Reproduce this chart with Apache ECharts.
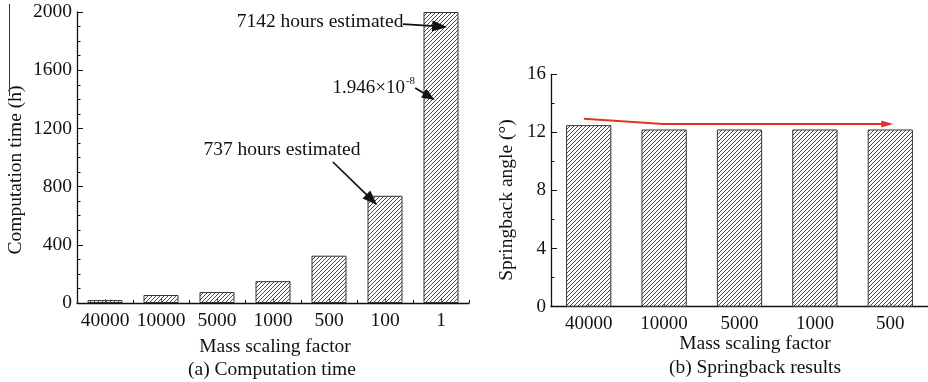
<!DOCTYPE html>
<html><head><meta charset="utf-8">
<script src="https://cdn.jsdelivr.net/npm/echarts@6/dist/echarts.min.js"></script>
<style>html,body{margin:0;padding:0;background:#fff}#c{width:928px;height:382px}</style>
</head><body><div id="c"></div>
<script>
// ---- data ----
const catsA = ['40000', '10000', '5000', '1000', '500', '100', '1'];
const timeHours = [20, 55, 75, 150, 325, 737, 2000];
const catsB = ['40000', '10000', '5000', '1000', '500'];
const springbackDeg = [12.5, 12.2, 12.2, 12.2, 12.2];
const yTicksA = [0, 400, 800, 1200, 1600, 2000];
const yTicksB = [0, 4, 8, 12, 16];
// annotations in data space: [category index (fractional), value]
const noteA1 = { text: '7142 hours estimated', at: [3.84, 1931], from: [5.32, 1917], to: [6.11, 1897] };
const noteA2 = { base: '1.946×10', sup: '-8', at: [4.80, 1485], from: [5.54, 1478], to: [5.89, 1395] };
const noteA3 = { text: '737 hours estimated', at: [3.16, 1052], from: [4.07, 969], to: [4.86, 674] };
const trendB = [[-0.064, 12.94], [0.987, 12.58], [4.04, 12.58]];

const FONT = '"Liberation Serif", "Times New Roman", serif';
const INK = '#111';

function hatch() {
  const s = 4, c = document.createElement('canvas');
  c.width = c.height = s;
  const g = c.getContext('2d');
  g.fillStyle = '#fff'; g.fillRect(0, 0, s, s);
  g.strokeStyle = '#333'; g.lineWidth = 0.9;
  g.beginPath();
  g.moveTo(0, s); g.lineTo(s, 0);
  g.moveTo(-1, 1); g.lineTo(1, -1);
  g.moveTo(s - 1, s + 1); g.lineTo(s + 1, s - 1);
  g.stroke();
  return c;
}
const pattern = { image: hatch(), repeat: 'repeat' };

const chart = echarts.init(document.getElementById('c'), null, { renderer: 'canvas' });

const axisLineStyle = { color: INK, width: 1.3 };
const labelStyle = { color: INK, fontFamily: FONT, fontSize: 19.5 };
const plain = v => String(v);

const option = {
  animation: false,
  backgroundColor: '#fff',
  grid: [
    { left: 77, top: 12, width: 392, height: 291 },
    { left: 551, top: 74.3, width: 390, height: 232.4 }
  ],
  xAxis: [
    { gridIndex: 0, type: 'category', data: catsA, position: 'bottom',
      axisLine: { lineStyle: axisLineStyle },
      axisTick: { show: true, inside: true, length: 3, interval: 0, lineStyle: { color: INK } },
      axisLabel: Object.assign({ margin: 8, interval: 0 }, labelStyle),
      splitLine: { show: false } },
    { gridIndex: 0, type: 'category', data: catsA, position: 'bottom', z: 5,
      axisLine: { show: false },
      axisTick: { show: true, inside: true, alignWithLabel: true, interval: 0, length: 4, lineStyle: { color: '#555' } },
      axisLabel: { show: false }, splitLine: { show: false } },
    { gridIndex: 1, type: 'category', data: catsB, position: 'bottom',
      axisLine: { lineStyle: axisLineStyle },
      axisTick: { show: false },
      axisLabel: Object.assign({ margin: 8, interval: 0 }, labelStyle, { fontSize: 19 }),
      splitLine: { show: false } },
    { gridIndex: 1, type: 'category', data: catsB, position: 'bottom', z: 5,
      axisLine: { show: false },
      axisTick: { show: true, inside: true, alignWithLabel: true, interval: 0, length: 4, lineStyle: { color: '#555' } },
      axisLabel: { show: false }, splitLine: { show: false } }
  ],
  yAxis: [
    { gridIndex: 0, type: 'value', min: yTicksA[0], max: yTicksA[yTicksA.length - 1],
      interval: yTicksA[1] - yTicksA[0],
      axisLine: { show: true, lineStyle: axisLineStyle },
      axisTick: { show: true, inside: true, length: 6, lineStyle: { color: INK } },
      minorTick: { show: true, splitNumber: 4, length: 3.5, lineStyle: { color: INK } },
      axisLabel: Object.assign({ margin: 5, formatter: plain }, labelStyle),
      splitLine: { show: false } },
    { gridIndex: 1, type: 'value', min: yTicksB[0], max: yTicksB[yTicksB.length - 1],
      interval: yTicksB[1] - yTicksB[0],
      axisLine: { show: true, lineStyle: axisLineStyle },
      axisTick: { show: true, inside: true, length: 6, lineStyle: { color: INK } },
      minorTick: { show: true, splitNumber: 2, length: 3.5, lineStyle: { color: INK } },
      axisLabel: Object.assign({ margin: 5, formatter: plain }, labelStyle, { fontSize: 19 }),
      splitLine: { show: false } }
  ],
  series: [
    { type: 'bar', xAxisIndex: 0, yAxisIndex: 0, data: timeHours, barWidth: '62.5%',
      itemStyle: { color: pattern, borderColor: '#333', borderWidth: 1 } },
    { type: 'bar', xAxisIndex: 2, yAxisIndex: 1, data: springbackDeg, barWidth: '60%',
      itemStyle: { color: pattern, borderColor: '#333', borderWidth: 1 } }
  ]
};
chart.setOption(option);

// ---- annotations via axis conversion ----
function toPx(xAxisIndex, yAxisIndex, p) {
  const x0 = chart.convertToPixel({ xAxisIndex }, 0);
  const x1 = chart.convertToPixel({ xAxisIndex }, 1);
  const x = x0 + (x1 - x0) * p[0];
  const y = chart.convertToPixel({ yAxisIndex }, p[1]);
  return [x, y];
}
function arrowHead(tip, from, color, len, halfW) {
  const dx = tip[0] - from[0], dy = tip[1] - from[1];
  const d = Math.hypot(dx, dy), ux = dx / d, uy = dy / d;
  const bx = tip[0] - ux * len, by = tip[1] - uy * len;
  return { type: 'polygon', z: 20, shape: { points: [tip, [bx - uy * halfW, by + ux * halfW], [bx + uy * halfW, by - ux * halfW]] },
    style: { fill: color } };
}
function arrow(a, b, color, w, len, halfW) {
  const dx = b[0] - a[0], dy = b[1] - a[1], d = Math.hypot(dx, dy);
  const end = [b[0] - dx / d * len * 0.8, b[1] - dy / d * len * 0.8];
  return [
    { type: 'line', z: 20, shape: { x1: a[0], y1: a[1], x2: end[0], y2: end[1] }, style: { stroke: color, lineWidth: w } },
    arrowHead(b, a, color, len, halfW)
  ];
}
function txt(text, x, y, size, extra) {
  return Object.assign({ type: 'text', z: 20, x, y,
    style: { text, fill: INK, font: size + 'px ' + FONT, align: 'center', verticalAlign: 'middle' } }, extra || {});
}

const g = [];
// left panel notes
let p = toPx(0, 0, noteA1.at);
g.push(txt(noteA1.text, p[0], p[1], 19.5));
g.push(...arrow(toPx(0, 0, noteA1.from), toPx(0, 0, noteA1.to), '#111', 1.7, 15, 5.5));
p = toPx(0, 0, noteA2.at);
g.push({ type: 'text', z: 20, x: p[0], y: p[1],
  style: { text: '{b|' + noteA2.base + '}{s|' + noteA2.sup + '}', align: 'center', verticalAlign: 'middle', fill: INK,
    rich: { b: { fontFamily: FONT, fontSize: 19, fill: INK, verticalAlign: 'bottom', lineHeight: 22 },
            s: { fontFamily: FONT, fontSize: 11, fill: INK, verticalAlign: 'top', lineHeight: 22, padding: [0, 0, 10, 1] } } } });
g.push(...arrow(toPx(0, 0, noteA2.from), toPx(0, 0, noteA2.to), '#111', 1.7, 13, 5));
p = toPx(0, 0, noteA3.at);
g.push(txt(noteA3.text, p[0], p[1], 19.5));
g.push(...arrow(toPx(0, 0, noteA3.from), toPx(0, 0, noteA3.to), '#111', 1.7, 15, 5.5));

// right panel red trend arrow
const tp = trendB.map(q => toPx(2, 1, q));
const last = tp[tp.length - 1], prev = tp[tp.length - 2];
const shaft = tp.slice(0, -1).concat([[last[0] - 9, last[1]]]);
g.push({ type: 'polyline', z: 20, shape: { points: shaft }, style: { stroke: '#e53228', lineWidth: 2, fill: null } });
g.push(arrowHead(last, prev, '#e53228', 12, 3.5));

// axis names and captions
g.push(txt('Mass scaling factor', 275, 347, 19.5));
g.push(txt('(a) Computation time', 272, 370, 19.5));
g.push(txt('Mass scaling factor', 755, 344, 19.5));
g.push(txt('(b) Springback results', 755, 368, 19.5));
g.push(txt('Computation time (h)', 16, 170, 19.5, { rotation: Math.PI / 2 }));
g.push(txt('Springback angle (°)', 507, 200, 19.5, { rotation: Math.PI / 2 }));
// scan border remnant at top-left
g.push({ type: 'line', z: 20, shape: { x1: 9.5, y1: 4, x2: 9.5, y2: 96 }, style: { stroke: '#333', lineWidth: 1 } });

chart.setOption({ graphic: g });
</script>
</body></html>
